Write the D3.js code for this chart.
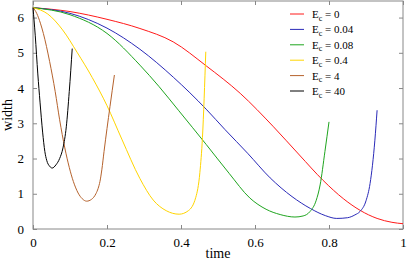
<!DOCTYPE html>
<html>
<head>
<meta charset="utf-8">
<script src="https://cdn.jsdelivr.net/npm/d3@7"></script>
<style>
  body { margin: 0; background: #fff; }
  svg { display: block; }
  svg text { font-family: "Liberation Serif", "Times New Roman", serif; }
</style>
</head>
<body>
<svg id="chart" width="409" height="261"></svg>
<script>
// width of the profile against time, one curve per value of E_c

const xTicks = [0, 0.2, 0.4, 0.6, 0.8, 1];
const yTicks = [0, 1, 2, 3, 4, 5, 6];

const labels = ["0", "0.04", "0.08", "0.4", "4", "40"];
const colors = ["#ff1a1a", "#2a2ab8", "#1fa51f", "#ffd500", "#b5622c", "#000000"];

const ec0 = [[0, 6.28], [0.1, 6.17], [0.2, 5.95], [0.289, 5.69], [0.379, 5.31], [0.468, 4.63], [0.56, 3.85],
  [0.65, 2.9], [0.72, 2.1], [0.784, 1.38], [0.84, 0.85], [0.884, 0.53], [0.93, 0.3], [0.97, 0.19], [1.0, 0.15]];
const ec004 = [[0, 6.28], [0.1, 6.12], [0.2, 5.7], [0.289, 5.1], [0.38, 4.3], [0.468, 3.4], [0.519, 2.82],
  [0.58, 2.15], [0.641, 1.45], [0.7, 0.92], [0.75, 0.58], [0.79, 0.38], [0.821, 0.3], [0.85, 0.32],
  [0.87, 0.4], [0.884, 0.5], [0.9, 0.8], [0.911, 1.29], [0.924, 2.52], [0.93, 3.37]];
const ec008 = [[0, 6.28], [0.1, 6.08], [0.2, 5.55], [0.289, 4.65], [0.34, 4.05], [0.393, 3.37], [0.468, 2.4],
  [0.53, 1.58], [0.586, 0.88], [0.63, 0.56], [0.668, 0.41], [0.708, 0.34], [0.73, 0.37], [0.749, 0.5],
  [0.765, 0.8], [0.776, 1.25], [0.789, 2.2], [0.8, 3.04]];
const ec04 = [[0, 6.28], [0.04, 6.1], [0.08, 5.65], [0.12, 5.0], [0.16, 4.3], [0.2, 3.5], [0.24, 2.55],
  [0.289, 1.43], [0.325, 0.82], [0.36, 0.52], [0.395, 0.42], [0.42, 0.52], [0.44, 0.9], [0.451, 1.6],
  [0.458, 2.6], [0.467, 5.03]];
const ec4 = [[0, 6.28], [0.01, 6.12], [0.02, 5.84], [0.028, 5.55], [0.045, 4.75], [0.06, 3.9], [0.072, 3.1],
  [0.086, 2.3], [0.098, 1.75], [0.109, 1.35], [0.122, 1.02], [0.133, 0.86], [0.145, 0.79], [0.158, 0.84],
  [0.17, 1.0], [0.176, 1.15], [0.181, 1.35], [0.186, 1.68], [0.192, 2.2], [0.208, 3.47], [0.22, 4.37]];
const ec40 = [[0, 6.28], [0.006, 5.5], [0.013, 4.4], [0.019, 3.6], [0.026, 2.75], [0.032, 2.2],
  [0.037, 1.95], [0.045, 1.78], [0.052, 1.73], [0.062, 1.82], [0.072, 2.0], [0.081, 2.3], [0.09, 2.9],
  [0.098, 3.9], [0.106, 5.12]];

const series = [ec0, ec004, ec008, ec04, ec4, ec40];

const svg = d3.select("#chart");
const margin = { left: 33, right: 6, top: 1, bottom: 32 };
const w = 409 - margin.left - margin.right;
const h = 261 - margin.top - margin.bottom;

const x = d3.scaleLinear().domain([0, 1]).range([margin.left, margin.left + w]);
const y = d3.scaleLinear().domain([0, 6.47]).range([margin.top + h, margin.top]);

const axisColor = "#888";

// frame
svg.append("rect")
  .attr("x", x(0)).attr("y", y(6.47))
  .attr("width", x(1) - x(0)).attr("height", y(0) - y(6.47))
  .attr("fill", "none").attr("stroke", axisColor).attr("stroke-width", 1);

const styleAxis = (g) => {
  g.attr("font-family", null).attr("font-size", 13);
  g.select(".domain").remove();
  g.selectAll("line").attr("stroke", axisColor);
  g.selectAll("text").attr("fill", "#000");
};

// inward ticks on all four sides
svg.append("g").attr("transform", `translate(0,${y(0)})`)
  .call(d3.axisBottom(x).tickValues(xTicks).tickSizeInner(-4).tickPadding(9).tickFormat((d) => d))
  .call(styleAxis);
svg.append("g").attr("transform", `translate(0,${y(6.47)})`)
  .call(d3.axisTop(x).tickValues(xTicks).tickSizeInner(-4).tickFormat(""))
  .call(styleAxis);
svg.append("g").attr("transform", `translate(${x(0)},0)`)
  .call(d3.axisLeft(y).tickValues(yTicks).tickSizeInner(-4).tickPadding(9).tickFormat((d) => d))
  .call(styleAxis);
svg.append("g").attr("transform", `translate(${x(1)},0)`)
  .call(d3.axisRight(y).tickValues(yTicks).tickSizeInner(-4).tickFormat(""))
  .call(styleAxis);

// the curves
const line = d3.line()
  .x((d) => x(d[0]))
  .y((d) => y(d[1]))
  .curve(d3.curveMonotoneX);

svg.append("g").selectAll("path")
  .data(series)
  .enter()
  .append("path")
  .attr("d", line)
  .attr("fill", "none")
  .attr("stroke", (d, i) => colors[i])
  .attr("stroke-width", 1);

// axis titles
svg.append("text")
  .attr("x", (x(0) + x(1)) / 2).attr("y", 258)
  .attr("text-anchor", "middle").attr("font-size", 14)
  .text("time");
svg.append("text")
  .attr("transform", `translate(12,${(y(0) + y(6.47)) / 2}) rotate(-90)`)
  .attr("text-anchor", "middle").attr("font-size", 14)
  .text("width");

// legend
const legend = svg.append("g")
  .selectAll("g")
  .data(labels)
  .enter()
  .append("g")
  .attr("transform", (d, i) => `translate(290,${14 + i * 15.4})`);

legend.append("line")
  .attr("x1", 0).attr("x2", 14)
  .attr("stroke", (d, i) => colors[i]).attr("stroke-width", 1);

const lt = legend.append("text")
  .attr("x", 22).attr("y", 4).attr("font-size", 11);
lt.append("tspan").text("E");
lt.append("tspan").attr("font-size", 8).attr("dy", 2.5).text("c");
lt.append("tspan").attr("dy", -2.5).text(" = ");
lt.append("tspan").text((d) => d);
</script>
</body>
</html>
